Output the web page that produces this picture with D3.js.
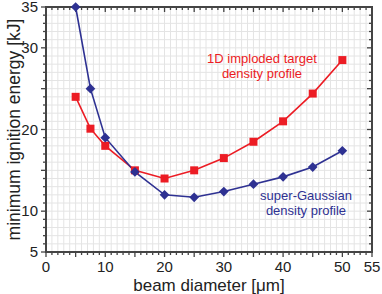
<!DOCTYPE html>
<html>
<head>
<meta charset="utf-8">
<script src="https://cdn.jsdelivr.net/npm/d3@7"></script>
<style>
  body { margin: 0; background: #fff; }
  svg { font-family: "Liberation Sans", Arial, sans-serif; }
</style>
</head>
<body>
<div id="chart"></div>
<script>
// beam diameter [um]
const diameters = [5, 7.5, 10, 15, 20, 25, 30, 35, 40, 45, 50];
// 1D imploded target density profile
const imploded = [24, 20.1, 18, 15, 14, 15, 16.5, 18.5, 21, 24.4, 28.5];
// super-Gaussian density profile
const superGauss = [35, 25, 19, 14.8, 12, 11.7, 12.4, 13.3, 14.2, 15.4, 17.4];
const xTickLabels = [0, 10, 20, 30, 40, 50, 55];
const yTickLabels = [5, 10, 20, 30, 35];

const width = 382;
const height = 294;
const margin = { top: 7, right: 10, bottom: 42, left: 46 };
const w = width - margin.left - margin.right;
const h = height - margin.top - margin.bottom;

const svg = d3
  .select("#chart")
  .append("svg")
  .attr("width", width)
  .attr("height", height);

const g = svg
  .append("g")
  .attr("transform", `translate(${margin.left},${margin.top})`);

const x = d3.scaleLinear().domain([0, 55]).range([0, w]);
const y = d3.scaleLinear().domain([5, 35]).range([h, 0]);

// light grid, one line per unit
g.append("g")
  .selectAll("line")
  .data(d3.range(1, 55))
  .enter()
  .append("line")
  .attr("x1", (d) => x(d))
  .attr("x2", (d) => x(d))
  .attr("y1", 0)
  .attr("y2", h)
  .attr("stroke", "#e4e4e4")
  .attr("stroke-width", 1);

g.append("g")
  .selectAll("line")
  .data(d3.range(6, 35))
  .enter()
  .append("line")
  .attr("x1", 0)
  .attr("x2", w)
  .attr("y1", (d) => y(d))
  .attr("y2", (d) => y(d))
  .attr("stroke", "#e4e4e4")
  .attr("stroke-width", 1);

const axisColor = "#444";

// ticks: small every unit, longer every 5
function tickSize(d) {
  return d % 5 === 0 ? 5 : 3;
}

const bottomAxis = g.append("g").attr("transform", `translate(0,${h})`);
bottomAxis
  .selectAll("line")
  .data(d3.range(0, 56))
  .enter()
  .append("line")
  .attr("x1", (d) => x(d))
  .attr("x2", (d) => x(d))
  .attr("y1", 0)
  .attr("y2", (d) => tickSize(d))
  .attr("stroke", axisColor)
  .attr("stroke-width", 1.3);
bottomAxis
  .selectAll("text")
  .data(xTickLabels)
  .enter()
  .append("text")
  .attr("x", (d) => x(d))
  .attr("y", 20)
  .attr("text-anchor", "middle")
  .attr("font-size", 15)
  .attr("fill", "#222")
  .text((d) => d);

const topAxis = g.append("g");
topAxis
  .selectAll("line")
  .data(d3.range(0, 56))
  .enter()
  .append("line")
  .attr("x1", (d) => x(d))
  .attr("x2", (d) => x(d))
  .attr("y1", 0)
  .attr("y2", (d) => tickSize(d))
  .attr("stroke", axisColor)
  .attr("stroke-width", 1.3);

const leftAxis = g.append("g");
leftAxis
  .selectAll("line")
  .data(d3.range(5, 36))
  .enter()
  .append("line")
  .attr("x1", (d) => -tickSize(d))
  .attr("x2", 0)
  .attr("y1", (d) => y(d))
  .attr("y2", (d) => y(d))
  .attr("stroke", axisColor)
  .attr("stroke-width", 1.3);
leftAxis
  .selectAll("text")
  .data(yTickLabels)
  .enter()
  .append("text")
  .attr("x", -8)
  .attr("y", (d) => y(d) + 5)
  .attr("text-anchor", "end")
  .attr("font-size", 15)
  .attr("fill", "#222")
  .text((d) => d);

const rightAxis = g.append("g");
rightAxis
  .selectAll("line")
  .data(d3.range(5, 36))
  .enter()
  .append("line")
  .attr("x1", (d) => w - tickSize(d))
  .attr("x2", w)
  .attr("y1", (d) => y(d))
  .attr("y2", (d) => y(d))
  .attr("stroke", axisColor)
  .attr("stroke-width", 1.3);

// frame
g.append("rect")
  .attr("width", w)
  .attr("height", h)
  .attr("fill", "none")
  .attr("stroke", axisColor)
  .attr("stroke-width", 2);

const red = "#ec1c24";
const blue = "#2e3192";

const line = d3
  .line()
  .x((d) => x(d[0]))
  .y((d) => y(d[1]));

const redData = diameters.map((d, i) => [d, imploded[i]]);
const blueData = diameters.map((d, i) => [d, superGauss[i]]);

g.append("path")
  .datum(redData)
  .attr("fill", "none")
  .attr("stroke", red)
  .attr("stroke-width", 1.6)
  .attr("d", line);

g.append("path")
  .datum(blueData)
  .attr("fill", "none")
  .attr("stroke", blue)
  .attr("stroke-width", 1.6)
  .attr("d", line);

g.selectAll(".sq")
  .data(redData)
  .enter()
  .append("rect")
  .attr("x", (d) => x(d[0]) - 4)
  .attr("y", (d) => y(d[1]) - 4)
  .attr("width", 8)
  .attr("height", 8)
  .attr("fill", red);

g.selectAll(".dm")
  .data(blueData)
  .enter()
  .append("path")
  .attr("transform", (d) => `translate(${x(d[0])},${y(d[1])})`)
  .attr("d", d3.symbol(d3.symbolDiamond2, 60))
  .attr("fill", blue);

// annotations
const redLabel = svg
  .append("text")
  .attr("text-anchor", "middle")
  .attr("font-size", 13)
  .attr("fill", red);
redLabel.append("tspan").attr("x", 262).attr("y", 63).text("1D imploded target");
redLabel.append("tspan").attr("x", 262).attr("y", 78).text("density profile");

const blueLabel = svg
  .append("text")
  .attr("text-anchor", "middle")
  .attr("font-size", 13)
  .attr("fill", blue);
blueLabel.append("tspan").attr("x", 306).attr("y", 200).text("super-Gaussian");
blueLabel.append("tspan").attr("x", 306).attr("y", 215).text("density profile");

// axis titles
svg
  .append("text")
  .attr("x", margin.left + x(27.5))
  .attr("y", 291)
  .attr("text-anchor", "middle")
  .attr("font-size", 17)
  .attr("fill", "#222")
  .text("beam diameter [\u03bcm]");

svg
  .append("text")
  .attr("transform", `translate(20,${margin.top + h / 2}) rotate(-90)`)
  .attr("text-anchor", "middle")
  .attr("font-size", 17.5)
  .attr("fill", "#222")
  .text("minimum ignition energy [kJ]");
</script>
</body>
</html>
